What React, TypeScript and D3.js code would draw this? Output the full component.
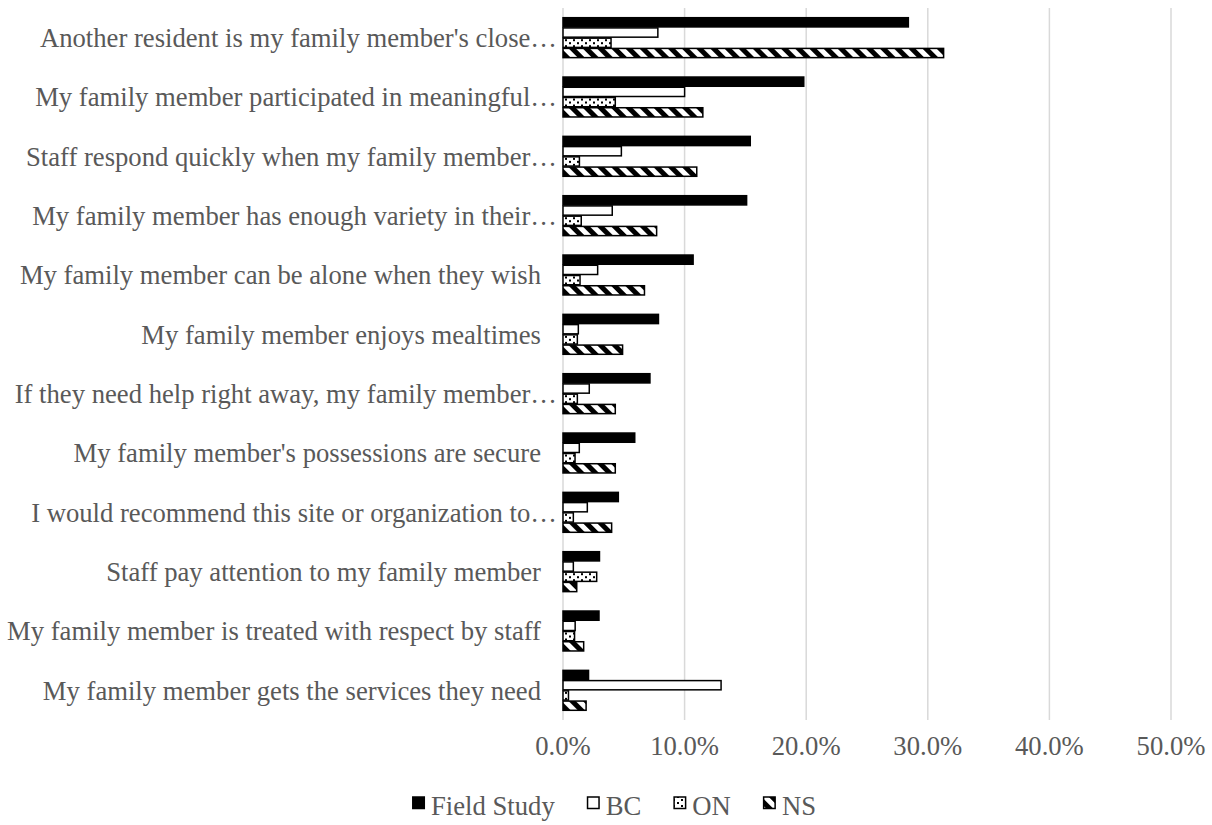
import React from "react";
import * as d3 from "d3";

const categories = [
  "Another resident is my family member's close…",
  "My family member participated in meaningful…",
  "Staff respond quickly when my family member…",
  "My family member has enough variety in their…",
  "My family member can be alone when they wish",
  "My family member enjoys mealtimes",
  "If they need help right away, my family member…",
  "My family member's possessions are secure",
  "I would recommend this site or organization to…",
  "Staff pay attention to my family member",
  "My family member is treated with respect by staff",
  "My family member gets the services they need",
];
const truncated = [true, true, true, true, false, false, true, false, true, false, false, false];

const seriesNames = ["Field Study", "BC", "ON", "NS"];
const fieldStudy = [0.284, 0.198, 0.154, 0.151, 0.107, 0.0785, 0.0715, 0.059, 0.0455, 0.030, 0.0296, 0.021];
const bc = [0.078, 0.100, 0.048, 0.0405, 0.0285, 0.0126, 0.0216, 0.0134, 0.020, 0.0085, 0.010, 0.130];
const on = [0.0395, 0.043, 0.0135, 0.015, 0.014, 0.0118, 0.0118, 0.0099, 0.0085, 0.0277, 0.0095, 0.0045];
const ns = [0.313, 0.115, 0.110, 0.077, 0.067, 0.049, 0.043, 0.043, 0.040, 0.0113, 0.017, 0.019];
const seriesValues = [fieldStudy, bc, on, ns];
const xTicks = [0, 0.1, 0.2, 0.3, 0.4, 0.5];

const FONT = "'Liberation Serif', 'Times New Roman', Times, serif";
const TEXT = "#595959";
const fills = ["#000000", "#ffffff", "url(#dots)", "url(#diag)"];

export default function App() {
  const width = 1212;
  const height = 825;
  const x = d3.scaleLinear().domain([0, 0.5]).range([563, 1171]);
  const y = d3.scaleBand<string>().domain(categories).range([8, 720]).paddingInner(0.31).paddingOuter(0.155);
  const inner = d3.scaleBand<string>().domain(seriesNames).range([0, y.bandwidth()]).padding(0);
  const fmt = d3.format(".1%");

  const charW = (s: string) => {
    const w: Record<string, number> = { F: .556, i: .278, e: .444, l: .278, d: .5, " ": .25, S: .556, t: .278, u: .5, y: .5, B: .667, C: .667, O: .722, N: .722 };
    return s.split("").reduce((a, c) => a + (w[c] ?? .5), 0) * 26.67;
  };
  const markerSize = 13;
  const markerGap = 6;
  const itemGap = 32;
  const itemWidths = seriesNames.map((s) => markerSize + markerGap + charW(s));
  const totalW = itemWidths.reduce((a, b) => a + b, 0) + itemGap * (seriesNames.length - 1);
  let lx = 614 - totalW / 2;
  const legendItems = seriesNames.map((s, i) => {
    const pos = lx;
    lx += itemWidths[i] + itemGap;
    return { s, i, pos };
  });

  const textStyle = { fontFamily: FONT };

  return (
    <svg width={width} height={height} style={{ position: "absolute", left: 0, top: 0, background: "#fff" }}>
      <defs>
        <pattern id="dots" patternUnits="userSpaceOnUse" width="8" height="6">
          <rect width="8" height="6" fill="#fff" />
          <rect x="1" y="1" width="2" height="2" fill="#000" />
          <rect x="5" y="4" width="2" height="2" fill="#000" />
        </pattern>
        <pattern id="diag" patternUnits="userSpaceOnUse" width="10" height="10" patternTransform="rotate(-45)">
          <rect width="10" height="10" fill="#fff" />
          <rect x="0" y="0" width="5" height="10" fill="#000" />
        </pattern>
      </defs>
      {xTicks.map((t) => (
        <line key={t} x1={x(t)} x2={x(t)} y1={8} y2={720} stroke="#d9d9d9" strokeWidth={1.5} />
      ))}
      {categories.map((c, ci) => (
        <g key={c} transform={`translate(0,${y(c)})`}>
          {seriesNames.map((s, si) => (
            <rect
              key={s}
              x={x(0)}
              y={(inner(s) as number) + 0.5}
              width={x(seriesValues[si][ci]) - x(0)}
              height={inner.bandwidth() - 1}
              fill={fills[si]}
              stroke="#000"
              strokeWidth={1.5}
            />
          ))}
        </g>
      ))}
      {categories.map((c, ci) => (
        <text
          key={c}
          x={truncated[ci] ? 557 : 541}
          y={(y(c) as number) + y.bandwidth() / 2}
          dy="0.35em"
          textAnchor="end"
          fontSize={26.67}
          fill={TEXT}
          style={textStyle}
        >
          {c}
        </text>
      ))}
      {xTicks.map((t) => (
        <text key={t} x={x(t)} y={755} textAnchor="middle" fontSize={26.67} fill={TEXT} style={textStyle}>
          {fmt(t)}
        </text>
      ))}
      {legendItems.map(({ s, i, pos }) => (
        <g key={s}>
          <rect x={pos + 0.75} y={797} width={markerSize - 1.5} height={markerSize - 1.5} fill={fills[i]} stroke="#000" strokeWidth={1.5} />
          <text x={pos + markerSize + markerGap} y={815} fontSize={26.67} fill={TEXT} style={textStyle}>
            {s}
          </text>
        </g>
      ))}
    </svg>
  );
}
